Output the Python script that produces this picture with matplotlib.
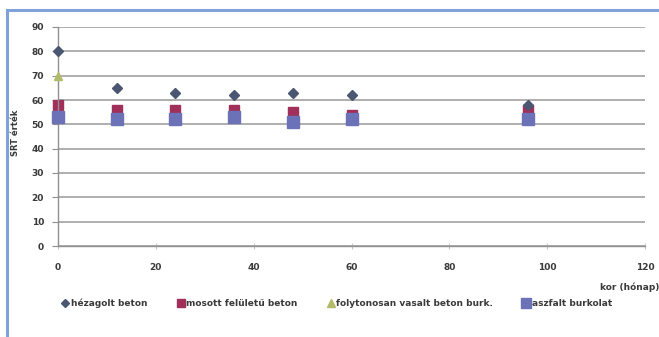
import matplotlib.pyplot as plt
from matplotlib.lines import Line2D

# SRT values by pavement age (months)
AGE = [0, 12, 24, 36, 48, 60, 96]
HEZAGOLT = [80, 65, 63, 62, 63, 62, 58]
MOSOTT = [58, 56, 56, 56, 55, 54, 56]
VASALT_AGE = [0]
VASALT = [70]
ASZFALT = [53, 52, 52, 53, 51, 52, 52]

LABELS = ['hézagolt beton', 'mosott felületű beton',
          'folytonosan vasalt beton burk.', 'aszfalt burkolat']
YTICKS = list(range(0, 100, 10))
XTICKS = list(range(0, 140, 20))

C_HEZ = '#4B5672'
C_MOS = '#A0305A'
C_VAS = '#B3BA68'
C_ASZ = '#6B72B8'
GRID = '#AEAEAE'
TXT = '#3A3A3A'
FRAME = '#7FA3D8'

fig = plt.figure(figsize=(6.59, 3.37), dpi=100)
fig.patch.set_facecolor('white')

# frame lines along top and left edge
fig.add_artist(Line2D([7 / 659, 1], [1 - 10 / 337] * 2, color=FRAME, lw=2.2,
                      transform=fig.transFigure))
fig.add_artist(Line2D([7 / 659] * 2, [0, 1 - 10 / 337], color=FRAME, lw=2.2,
                      transform=fig.transFigure))

ax = fig.add_axes([58 / 659, 1 - 246 / 337, (645 - 58) / 659, (246 - 27) / 337])
ax.set_xlim(0, 120)
ax.set_ylim(0, 90)
ax.set_yticks(YTICKS)
ax.set_xticks(XTICKS)
ax.yaxis.grid(True, color=GRID, lw=1.4)
ax.set_axisbelow(True)
for s in ('top', 'right'):
    ax.spines[s].set_visible(False)
for s in ('left', 'bottom'):
    ax.spines[s].set_color('#909090')
    ax.spines[s].set_linewidth(1.0)
ax.tick_params(axis='y', length=4, color='#909090', labelsize=6.5,
               labelcolor=TXT, pad=6)
ax.tick_params(axis='x', direction='inout', length=4, color='#C8C8C8',
               labelsize=6.5, labelcolor=TXT, pad=10)
for lab in ax.get_xticklabels() + ax.get_yticklabels():
    lab.set_fontweight('bold')

ax.plot(AGE, ASZFALT, ls='none', marker='s', ms=8, color=C_ASZ, zorder=3,
        clip_on=False)
ax.plot(VASALT_AGE, VASALT, ls='none', marker='^', ms=6, color=C_VAS,
        zorder=4, clip_on=False)
ax.plot(AGE, MOSOTT, ls='none', marker='s', ms=7, color=C_MOS, zorder=2,
        clip_on=False)
ax.plot(AGE, HEZAGOLT, ls='none', marker='D', ms=5, color=C_HEZ, zorder=5,
        clip_on=False)

ax.set_ylabel('SRT érték', fontsize=6, fontweight='bold', color=TXT)
ax.yaxis.set_label_coords(-0.0655, 0.516)
fig.text(659 / 659, 1 - 287 / 337, 'kor (hónap)', ha='right', va='center',
         fontsize=6.5, fontweight='bold', color=TXT)

handles = [
    Line2D([], [], ls='none', marker='D', ms=4, color=C_HEZ),
    Line2D([], [], ls='none', marker='s', ms=6, color=C_MOS),
    Line2D([], [], ls='none', marker='^', ms=6, color=C_VAS),
    Line2D([], [], ls='none', marker='s', ms=7, color=C_ASZ),
]
leg = fig.legend(handles, LABELS, ncol=4, frameon=False,
                 loc='center left', bbox_to_anchor=(58 / 659, 1 - 303 / 337),
                 fontsize=6.5, handlelength=0.8, handletextpad=0.2,
                 columnspacing=3.3, borderaxespad=0)
for t in leg.get_texts():
    t.set_fontweight('bold')
    t.set_color(TXT)

fig.savefig('out.png', dpi=100, facecolor='white')
